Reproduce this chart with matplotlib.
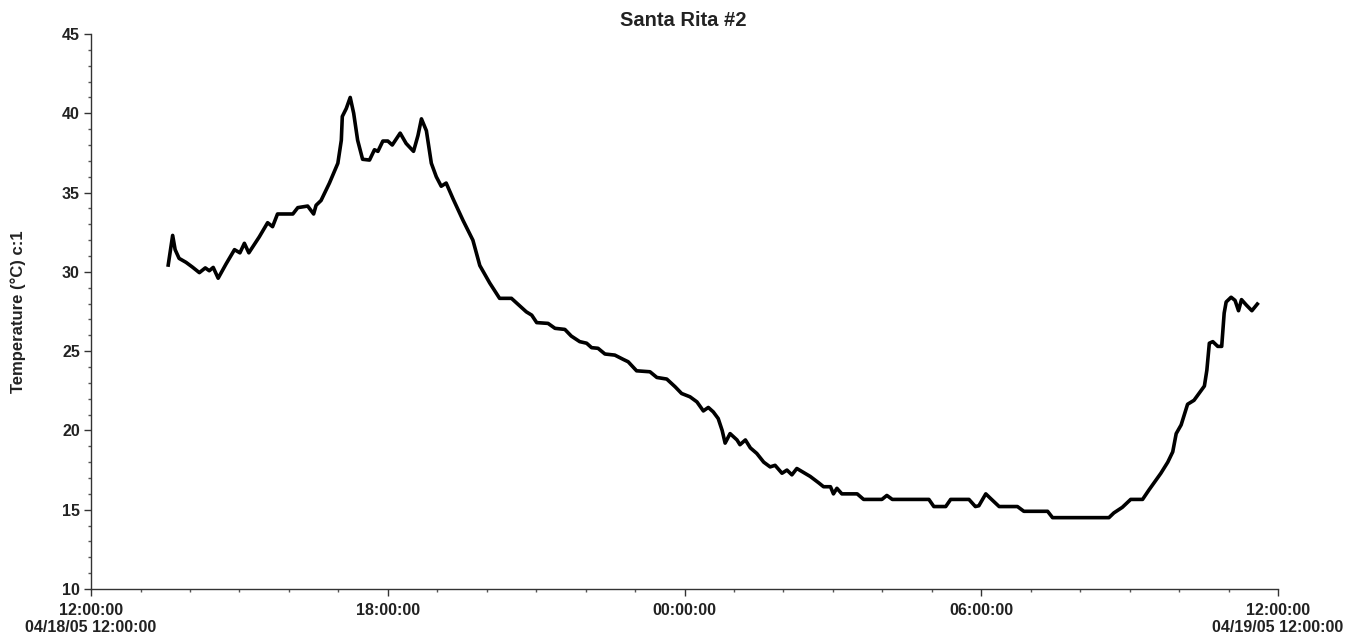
import matplotlib
matplotlib.use("Agg")
import matplotlib.pyplot as plt
from matplotlib.ticker import MultipleLocator, FixedLocator, FixedFormatter

plt.rcParams['font.family'] = ['Liberation Sans', 'DejaVu Sans']
plt.rcParams['font.weight'] = 'bold'

# === Data: hours after 04/18/05 12:00:00, temperature in degC ===
hours = [
    1.56, 1.65, 1.70, 1.78, 1.92, 2.05, 2.19, 2.31, 2.39, 2.47,
    2.57, 2.73, 2.90, 3.01, 3.10, 3.19, 3.40, 3.57, 3.67, 3.77,
    4.08, 4.18, 4.38, 4.50, 4.55, 4.65, 4.82, 4.99, 5.06, 5.08,
    5.16, 5.24, 5.31, 5.39, 5.49, 5.63, 5.73, 5.80, 5.90, 6.00,
    6.09, 6.25, 6.37, 6.52, 6.61, 6.68, 6.78, 6.88, 6.98, 7.08,
    7.18, 7.32, 7.52, 7.72, 7.86,
    8.06, 8.26, 8.50, 8.67, 8.80, 8.91, 9.01, 9.24, 9.38, 9.58,
    9.71, 9.88, 10.02, 10.12, 10.25, 10.39, 10.59, 10.76, 10.86, 11.03,
    11.30, 11.44, 11.64, 11.81, 11.94, 12.11, 12.25, 12.38, 12.48, 12.58,
    12.68, 12.76,
    12.82, 12.92, 13.06, 13.12, 13.23, 13.33, 13.46, 13.60, 13.73,
    13.83, 13.97, 14.07, 14.17, 14.27, 14.54, 14.71, 14.81, 14.95, 15.01,
    15.08, 15.18, 15.49, 15.62, 15.99, 16.09, 16.20, 16.94, 17.04, 17.28,
    17.38, 17.75, 17.88, 17.95, 18.09, 18.19, 18.36, 18.73, 18.86, 19.34,
    19.44, 20.58, 20.68, 20.85, 21.02, 21.26, 21.39, 21.63, 21.77, 21.87,
    21.94, 22.04, 22.17, 22.30, 22.51, 22.56, 22.61, 22.68, 22.78, 22.86,
    22.91, 22.95, 23.05, 23.13, 23.20, 23.26, 23.36, 23.47, 23.58,
]
temps = [
    30.43, 32.3, 31.4, 30.85, 30.6, 30.3, 29.95, 30.25, 30.07, 30.28,
    29.6, 30.5, 31.4, 31.2, 31.8, 31.2, 32.2, 33.1, 32.85, 33.65,
    33.65, 34.05, 34.15, 33.65, 34.2, 34.5, 35.6, 36.85, 38.3, 39.8,
    40.3, 41.0, 40.0, 38.3, 37.1, 37.05, 37.7, 37.6, 38.25, 38.25,
    38.0, 38.75, 38.1, 37.6, 38.6, 39.65, 38.9, 36.85, 36.0, 35.4,
    35.6, 34.6, 33.25, 32.0, 30.4,
    29.3, 28.33, 28.33, 27.85, 27.48, 27.27, 26.8, 26.75, 26.44, 26.37,
    25.95, 25.6, 25.5, 25.22, 25.18, 24.82, 24.75, 24.48, 24.33, 23.76,
    23.7, 23.34, 23.24, 22.75, 22.33, 22.12, 21.8, 21.23, 21.45, 21.17,
    20.75, 20.0,
    19.2, 19.8, 19.4, 19.1, 19.4, 18.9, 18.55, 18.0, 17.7,
    17.8, 17.3, 17.5, 17.2, 17.6, 17.1, 16.7, 16.45, 16.45, 16.0,
    16.35, 16.0, 16.0, 15.65, 15.65, 15.9, 15.65, 15.65, 15.2, 15.2,
    15.65, 15.65, 15.2, 15.25, 16.0, 15.7, 15.2, 15.2, 14.9, 14.9,
    14.5, 14.5, 14.8, 15.15, 15.65, 15.65, 16.25, 17.3, 18.0, 18.65,
    19.8, 20.35, 21.65, 21.9, 22.8, 23.8, 25.5, 25.6, 25.3, 25.3,
    27.4, 28.1, 28.4, 28.2, 27.55, 28.25, 27.9, 27.55, 27.97,
]

tick_hours = [0, 6, 12, 18, 24]
tick_labels = ["12:00:00\n04/18/05 12:00:00", "18:00:00", "00:00:00",
               "06:00:00", "12:00:00\n04/19/05 12:00:00"]

# === Plot ===
fig = plt.figure(figsize=(13.63, 6.38), dpi=100)
ax = fig.add_axes([0.0668, 0.0768, 0.8709, 0.8699])

ax.plot(hours, temps, color='black', linewidth=2.6, solid_joinstyle='round')

ax.set_xlim(0, 24)
ax.set_ylim(10, 45)
ax.xaxis.set_major_locator(FixedLocator(tick_hours))
ax.xaxis.set_major_formatter(FixedFormatter(tick_labels))
ax.xaxis.set_minor_locator(MultipleLocator(1))
ax.yaxis.set_major_locator(MultipleLocator(5))
ax.yaxis.set_minor_locator(MultipleLocator(1))

for s in ['top', 'right']:
    ax.spines[s].set_visible(False)
for s in ['left', 'bottom']:
    ax.spines[s].set_color('#333333')
    ax.spines[s].set_linewidth(1.0)

ax.tick_params(which='major', length=5, width=1, color='#333333',
               labelsize=11.5, labelcolor='#222222')
ax.tick_params(which='minor', length=2.5, width=1, color='#555555')
ax.tick_params(axis='x', which='major', pad=5)
ax.tick_params(axis='y', which='major', pad=3)
for lab in ax.get_xticklabels():
    lab.set_multialignment('center')
    lab.set_fontweight('bold')
for lab in ax.get_yticklabels():
    lab.set_fontweight('bold')

fig.text(683 / 1363, 1 - 20 / 638, "Santa Rita #2", ha='center', va='center',
         fontsize=14.5, fontweight='bold', color='#222222')
fig.text(18 / 1363, 1 - 312 / 638, "Temperature (°C) c:1", ha='center', va='center',
         rotation=90, fontsize=12, fontweight='bold', color='#222222')

fig.savefig("out.png", dpi=100)
